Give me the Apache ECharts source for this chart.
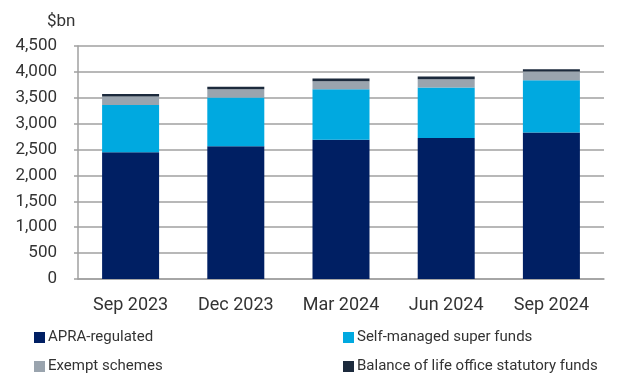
<!DOCTYPE html>
<html><head><meta charset="utf-8">
<script src="https://cdn.jsdelivr.net/npm/echarts@6/dist/echarts.min.js"></script>
<style>html,body{margin:0;padding:0;background:#fff}#c{width:624px;height:390px}</style>
</head><body><div id="c"></div>
<script>
const categories = ['Sep 2023','Dec 2023','Mar 2024','Jun 2024','Sep 2024'];
const apra = [2448, 2563, 2687, 2725, 2827];
const smsf = [912, 943, 980, 973, 1013];
const exempt = [165, 161, 154, 162, 166];
const balance = [46, 45, 50, 50, 46];
const seriesNames = ['APRA-regulated','Self-managed super funds','Exempt schemes','Balance of life office statutory funds'];
const colors = ['#001f63','#00a9e0','#9aa4ae','#1c2a3c'];

const chart = echarts.init(document.getElementById('c'));
const font = 'Roboto';
const dataArr = [apra, smsf, exempt, balance];
function legend(i, left, top){
  return {data:[seriesNames[i]], left:left, top:top, itemWidth:11, itemHeight:11, itemGap:4,
    icon:'rect', padding:0, textStyle:{fontFamily:font, fontSize:15, color:'#333', padding:[0,0,0,-2]}};
}
chart.setOption({
  animation:false,
  color: colors,
  grid:{left:78, right:20, top:46, bottom:111, containLabel:false},
  title:{text:'$bn', left:42, top:8, textStyle:{fontFamily:font, fontSize:17, fontWeight:'normal', color:'#333'}},
  legend:[legend(0,34,330), legend(1,343,330), legend(2,34,359), legend(3,343,359)],
  xAxis:{type:'category', data:categories,
    axisLine:{show:true, lineStyle:{color:'#a0a0a0', width:1.5}},
    axisTick:{show:false},
    axisLabel:{fontFamily:font, fontSize:18, color:'#333', margin:17}},
  yAxis:{type:'value', min:0, max:4500, interval:500,
    axisLine:{show:true, lineStyle:{color:'#a0a0a0', width:1.5}},
    axisTick:{show:true, length:4, lineStyle:{color:'#a0a0a0', width:1.5}},
    splitLine:{lineStyle:{color:'#a0a0a0', width:1.5}},
    axisLabel:{fontFamily:font, fontSize:17, color:'#333', margin:21,
      formatter:v=>v.toLocaleString('en-US')}},
  series: dataArr.map((d,i)=>({
    name:seriesNames[i], type:'bar', stack:'t', data:d, barWidth:57
  }))
});
</script></body></html>
